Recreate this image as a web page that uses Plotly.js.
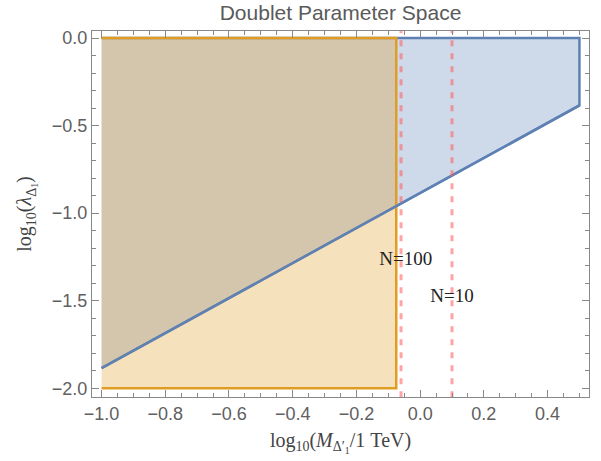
<!DOCTYPE html>
<html>
<head>
<meta charset="utf-8">
<script src="https://cdn.plot.ly/plotly-3.0.1.min.js"></script>
<style>
  html, body { margin: 0; padding: 0; background: #fff; }
  #chart { width: 601px; height: 461px; }
</style>
</head>
<body>
<div id="chart"></div>
<script>
// Region allowed by the coupling bound (blue) and by the mass bound (orange)
const couplingRegionX = [-1.0, 0.5, 0.5, -1.0];
const couplingRegionY = [-1.885, -0.385, 0.0, 0.0];
const boundaryX = [-1.0, 0.5];
const boundaryY = [-1.885, -0.385];

const massRegionX = [-1.0, -0.075, -0.075, -1.0];
const massRegionY = [-2.0, -2.0, 0.0, 0.0];

// Multiplicity thresholds in log10(M / 1 TeV)
const thresholdX = [-0.06, 0.1];
const thresholdNames = ['N=100', 'N=10'];
const thresholdLabelX = [-0.045, 0.1];
const thresholdLabelY = [-1.27, -1.48];

const BLUE = '#5E81B5';
const ORANGE = '#E19C24';
const DASH = 'rgba(255,90,90,0.55)';

const traces = [];

traces.push({
  x: couplingRegionX, y: couplingRegionY,
  mode: 'lines', fill: 'toself',
  fillcolor: 'rgba(94,129,181,0.3)',
  line: { color: BLUE, width: 2.5 },
  hoverinfo: 'skip', showlegend: false
});

traces.push({
  x: massRegionX, y: massRegionY,
  mode: 'lines', fill: 'toself',
  fillcolor: 'rgba(225,156,36,0.3)',
  line: { color: ORANGE, width: 2.5 },
  hoverinfo: 'skip', showlegend: false
});

// coupling boundary drawn again so it stays visible through the orange fill
traces.push({
  x: boundaryX, y: boundaryY,
  mode: 'lines',
  line: { color: BLUE, width: 2.5 },
  hoverinfo: 'skip', showlegend: false
});

thresholdX.forEach(function (xv) {
  traces.push({
    x: [xv, xv], y: [-2.2, 0.2],
    mode: 'lines',
    line: { color: DASH, width: 3, dash: '6px,7px' },
    hoverinfo: 'skip', showlegend: false
  });
});

traces.push({
  x: thresholdLabelX, y: thresholdLabelY,
  mode: 'text', text: thresholdNames,
  textposition: 'middle center',
  textfont: { family: '"Liberation Serif", "Times New Roman", serif', size: 19, color: '#222' },
  hoverinfo: 'skip', showlegend: false
});

const tickFont = { family: '"Liberation Sans", Arial, sans-serif', size: 18, color: '#606060' };
const serif = '"Liberation Serif", "Times New Roman", serif';

const layout = {
  width: 601, height: 461,
  margin: { l: 92, r: 12, t: 31, b: 64 },
  paper_bgcolor: '#fff', plot_bgcolor: '#fff',
  title: {
    text: 'Doublet Parameter Space',
    font: { family: '"Liberation Sans", Arial, sans-serif', size: 21, color: '#5a5a5a' },
    x: 0.5, xref: 'paper', xanchor: 'center',
    y: 0.972, yanchor: 'middle'
  },
  xaxis: {
    range: [-1.03, 0.53],
    tick0: -1, dtick: 0.2, tickformat: '.1f',
    ticks: 'inside', ticklen: 7, tickcolor: '#888', tickwidth: 1,
    minor: { dtick: 0.05, tick0: -1, ticks: 'inside', ticklen: 4, tickcolor: '#888' },
    showline: true, linecolor: '#888', linewidth: 1, mirror: 'allticks',
    showgrid: false, zeroline: false,
    tickfont: tickFont,
    title: {
      text: 'log<sub>10</sub>(<i>M</i><sub>Δ′<sub>1</sub></sub>/1 TeV)',
      font: { family: serif, size: 20, color: '#444' },
      standoff: 10
    }
  },
  yaxis: {
    range: [-2.05, 0.04],
    tick0: 0, dtick: 0.5, tickformat: '.1f',
    ticks: 'inside', ticklen: 7, tickcolor: '#888', tickwidth: 1,
    minor: { dtick: 0.1, tick0: 0, ticks: 'inside', ticklen: 4, tickcolor: '#888' },
    showline: true, linecolor: '#888', linewidth: 1, mirror: 'allticks',
    showgrid: false, zeroline: false,
    tickfont: tickFont,
    title: {
      text: 'log<sub>10</sub>(<i>λ</i><sub>Δ<sub>1</sub></sub>)',
      font: { family: serif, size: 20, color: '#444' },
      standoff: 14
    }
  }
};

Plotly.newPlot('chart', traces, layout, { staticPlot: true, displayModeBar: false });
</script>
</body>
</html>
